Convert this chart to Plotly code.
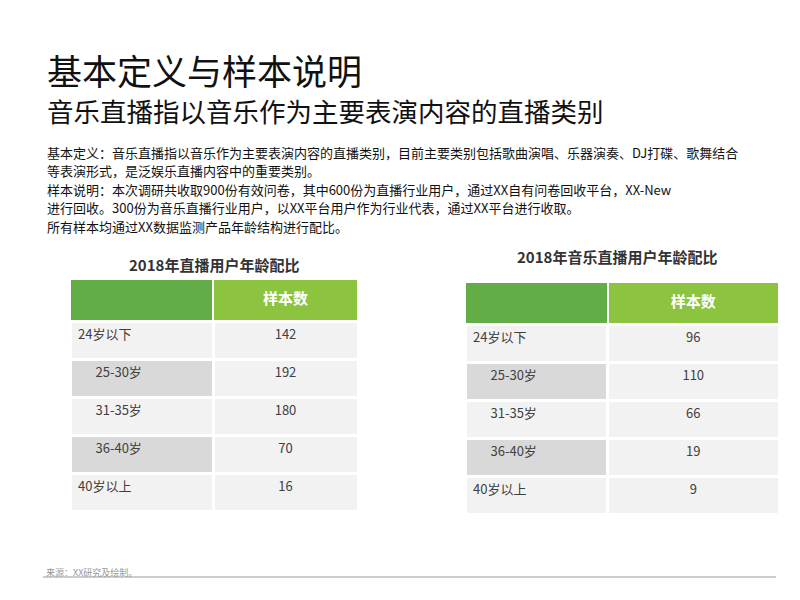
import plotly.graph_objects as go

ages1 = ["24岁以下", "      25-30岁", "      31-35岁", "      36-40岁", "40岁以上"]
vals1 = [142, 192, 180, 70, 16]
ages2 = ["24岁以下", "      25-30岁", "      31-35岁", "      36-40岁", "40岁以上"]
vals2 = [96, 110, 66, 19, 9]
title1 = "2018年直播用户年龄配比"
title2 = "2018年音乐直播用户年龄配比"
header = ["", "<b>样本数</b>"]

F = "Noto Sans CJK SC"
W, H = 800, 600
DX, DY = -10, -9
def py(y): return 1 - (y + DY) / H
def px(x): return (x + DX) / W

left_colors = ["#f2f2f2", "#d9d9d9", "#f2f2f2", "#d9d9d9", "#f2f2f2"]
right_colors = ["#f2f2f2"] * 5

def table(ages, vals, x0, x1, xm, ytop, ch):
    return go.Table(
        domain=dict(x=[px(x0), px(x1)], y=[py(ytop + 42 + 5 * ch + 5), py(ytop)]),
        columnwidth=[xm - x0, x1 - xm],
        header=dict(values=header, fill_color=["#62ad45", "#8cc43f"],
                    line=dict(color="white", width=2), height=42,
                    align="center", font=dict(family=F, size=15, color="white")),
        cells=dict(values=[ages, vals], fill_color=[left_colors, right_colors],
                   line=dict(color="white", width=3), height=ch,
                   align=["left", "center"],
                   font=dict(family=F, size=13, color="#404040")),
    )

fig = go.Figure()
fig.add_trace(table(ages1, vals1, 72, 360, 215, 280, 38))
fig.add_trace(table(ages2, vals2, 467, 782, 610, 283, 38))

body = ["基本定义：音乐直播指以音乐作为主要表演内容的直播类别，目前主要类别包括歌曲演唱、乐器演奏、DJ打碟、歌舞结合",
        "等表演形式，是泛娱乐直播内容中的重要类别。",
        "样本说明：本次调研共收取900份有效问卷，其中600份为直播行业用户，通过XX自有问卷回收平台，XX-New",
        "进行回收。300份为音乐直播行业用户，以XX平台用户作为行业代表，通过XX平台进行收取。",
        "所有样本均通过XX数据监测产品年龄结构进行配比。"]
ann = [
    dict(text="基本定义与样本说明", x=px(47), y=py(70), font=dict(size=35, color="#111")),
    dict(text="音乐直播指以音乐作为主要表演内容的直播类别", x=px(47), y=py(111), font=dict(size=26.5, color="#111")),
    dict(text="<b>" + title1 + "</b>", x=px(216), y=py(265), xanchor="center", font=dict(size=15, color="#333")),
    dict(text="<b>" + title2 + "</b>", x=px(619), y=py(257), xanchor="center", font=dict(size=15, color="#333")),
    dict(text="来源：XX研究及绘制。", x=px(46), y=py(573), font=dict(size=9, color="#999")),
]
for i, t in enumerate(body):
    ann.append(dict(text=t, x=px(47), y=py(153 + i * 18.6), font=dict(size=13, color="#111")))
for a in ann:
    a.setdefault("xanchor", "left")
    a.update(xref="paper", yref="paper", yanchor="middle", showarrow=False)
    a["font"].setdefault("family", F)
    fig.add_annotation(**a)

fig.add_shape(type="line", xref="paper", yref="paper", x0=px(45), x1=px(778), y0=py(578), y1=py(578),
              line=dict(color="#999", width=1.2))
fig.update_layout(width=W, height=H, margin=dict(l=0, r=0, t=0, b=0),
                  paper_bgcolor="white", plot_bgcolor="white")
fig.write_html("out.html")
